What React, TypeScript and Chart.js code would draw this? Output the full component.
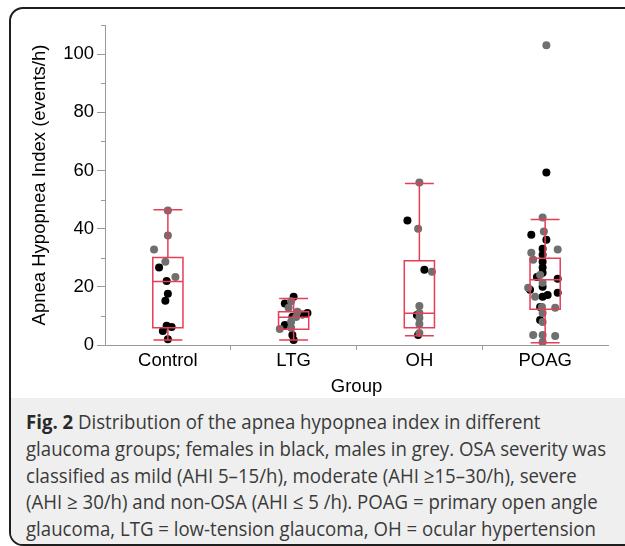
import React, { useEffect, useRef, useState } from 'react';
import { Chart, registerables } from 'chart.js';

Chart.register(...registerables);

// ---------- data ----------
const groups = ['Control', 'LTG', 'OH', 'POAG'];

// females (black) per group: AHI values and horizontal jitter (category units)
const controlFemale = [26.6, 22, 17.6, 15.2, 6.6, 6.2, 4.8, 2.0];
const controlFemaleJitter = [-0.07, -0.01, 0, -0.02, -0.01, 0.03, -0.04, 0];
const controlMale = [46.2, 37.6, 32.8, 28.6, 23.4];
const controlMaleJitter = [0, 0, -0.11, -0.02, 0.06];

const ltgFemale = [16.6, 14.3, 11, 10.5, 9.7, 6.9, 3.4, 1.7];
const ltgFemaleJitter = [0, -0.07, 0.11, 0.07, -0.01, -0.07, -0.01, 0];
const ltgMale = [15, 12.8, 11.4, 9.6, 8, 5.9, 5.5];
const ltgMaleJitter = [-0.02, -0.04, 0.03, 0.02, -0.02, -0.02, -0.11];

const ohFemale = [42.8, 25.9, 10.3, 3.4];
const ohFemaleJitter = [-0.095, 0.04, -0.02, -0.01];
const ohMale = [55.9, 40, 25.2, 13.4, 11, 9.3, 7.2, 4.1];
const ohMaleJitter = [0, -0.01, 0.1, 0, 0, 0, 0, 0];

const poagFemale = [59.3, 37.9, 36.2, 33.1, 31, 28.6, 26.6, 24.8, 23.4, 22.8, 20, 19, 18, 17.2, 16.6, 13.1, 8.6];
const poagFemaleJitter = [0.01, -0.11, 0.01, -0.02, -0.02, -0.02, -0.02, -0.02, -0.065, 0.1, -0.02, -0.12, 0.1, 0.02, -0.02, -0.04, -0.04];
const poagMale = [103, 43.8, 39, 32.8, 31.7, 29.3, 24.1, 21.4, 19.7, 16.6, 12.8, 13.1, 11, 7.9, 3.4, 3.4, 3.1, 1.0];
const poagMaleJitter = [0.01, -0.02, -0.01, 0.1, -0.11, -0.095, -0.04, -0.02, -0.135, -0.08, 0.08, -0.025, -0.02, -0.02, -0.095, -0.02, 0.08, -0.02];

// box plot statistics per group
const whiskerLow = [1.7, 1.7, 3.2, 0.8];
const quartile1 = [5.9, 5.4, 5.9, 12.3];
const medians = [21.8, 9.5, 10.9, 22.4];
const quartile3 = [30.1, 11.4, 29.0, 29.8];
const whiskerHigh = [46.5, 16.0, 55.5, 43.1];

const yMin = 0;
const yMax = 110;
const yStep = 10;
const yLabelEvery = 20;

const yTitle = 'Apnea Hypopnea Index (events/h)';
const xTitle = 'Group';

const captionLines: Array<{ bold?: string; text: string }> = [
  { bold: 'Fig. 2', text: ' Distribution of the apnea hypopnea index in different' },
  { text: 'glaucoma groups; females in black, males in grey. OSA severity was' },
  { text: 'classified as mild (AHI 5–15/h), moderate (AHI ≥15–30/h), severe' },
  { text: '(AHI ≥ 30/h) and non-OSA (AHI ≤ 5 /h). POAG = primary open angle' },
  { text: 'glaucoma, LTG = low-tension glaucoma, OH = ocular hypertension' },
];

// ---------- styles ----------
const BOX_COLOR = '#e53e56';
const AXIS_COLOR = '#9a9a9a';
const FEMALE_COLOR = '#000000';
const MALE_COLOR = '#6f6f6f';
const BOX_HALF = 0.12;
const CAP_HALF = 0.115;
const FONT = '"Liberation Sans", Arial, sans-serif';
const CAPTION_FONT = '"Open Sans", sans-serif';
const CAPTION_SIZE = 20;

function buildPoints(values: number[], jitter: number[], groupIndex: number) {
  return values.map((v, i) => ({ x: groupIndex + 1 + (jitter[i] || 0), y: v }));
}

const boxPlugin = {
  id: 'boxes',
  afterDatasetsDraw(chart: any) {
    const { ctx, scales } = chart;
    const x = scales.x;
    const y = scales.y;
    ctx.save();
    ctx.strokeStyle = BOX_COLOR;
    ctx.lineWidth = 1.5;
    groups.forEach((_, i) => {
      const cx = x.getPixelForValue(i + 1);
      const hw = x.getPixelForValue(i + 1 + BOX_HALF) - cx;
      const cw = x.getPixelForValue(i + 1 + CAP_HALF) - cx;
      const yq1 = y.getPixelForValue(quartile1[i]);
      const yq3 = y.getPixelForValue(quartile3[i]);
      const ymed = y.getPixelForValue(medians[i]);
      const ylo = y.getPixelForValue(whiskerLow[i]);
      const yhi = y.getPixelForValue(whiskerHigh[i]);
      ctx.beginPath();
      ctx.rect(cx - hw, yq3, hw * 2, yq1 - yq3);
      ctx.moveTo(cx - hw, ymed);
      ctx.lineTo(cx + hw, ymed);
      ctx.moveTo(cx, yq3);
      ctx.lineTo(cx, yhi);
      ctx.moveTo(cx, yq1);
      ctx.lineTo(cx, ylo);
      ctx.moveTo(cx - cw, yhi);
      ctx.lineTo(cx + cw, yhi);
      ctx.moveTo(cx - cw, ylo);
      ctx.lineTo(cx + cw, ylo);
      ctx.stroke();
    });
    // minor ticks on the y axis
    ctx.strokeStyle = AXIS_COLOR;
    ctx.lineWidth = 1;
    const left = chart.chartArea.left;
    for (let v = yMin; v <= yMax; v += yStep) {
      if (v % yLabelEvery === 0) continue;
      const py = Math.round(y.getPixelForValue(v)) + 0.5;
      ctx.beginPath();
      ctx.moveTo(left - 4, py);
      ctx.lineTo(left, py);
      ctx.stroke();
    }
    ctx.restore();
  },
};

function ChartCanvas() {
  const ref = useRef<HTMLCanvasElement | null>(null);
  useEffect(() => {
    if (!ref.current) return;
    const female = [
      ...buildPoints(controlFemale, controlFemaleJitter, 0),
      ...buildPoints(ltgFemale, ltgFemaleJitter, 1),
      ...buildPoints(ohFemale, ohFemaleJitter, 2),
      ...buildPoints(poagFemale, poagFemaleJitter, 3),
    ];
    const male = [
      ...buildPoints(controlMale, controlMaleJitter, 0),
      ...buildPoints(ltgMale, ltgMaleJitter, 1),
      ...buildPoints(ohMale, ohMaleJitter, 2),
      ...buildPoints(poagMale, poagMaleJitter, 3),
    ];
    const chart = new Chart(ref.current, {
      type: 'scatter',
      data: {
        datasets: [
          { label: 'Males', data: male, backgroundColor: MALE_COLOR, borderWidth: 0, pointRadius: 4 },
          { label: 'Females', data: female, backgroundColor: FEMALE_COLOR, borderWidth: 0, pointRadius: 4 },
        ],
      },
      options: {
        animation: false,
        responsive: false,
        devicePixelRatio: 1,
        layout: { padding: { left: 0, right: 17, top: 25, bottom: 0 } },
        plugins: { legend: { display: false }, tooltip: { enabled: false } },
        scales: {
          x: {
            type: 'linear',
            min: 0.5,
            max: groups.length + 0.5,
            afterBuildTicks: (scale: any) => {
              const t: any[] = [];
              for (let i = 1; i <= groups.length; i++) {
                t.push({ value: i });
                if (i < groups.length) t.push({ value: i + 0.5 });
              }
              scale.ticks = t;
            },
            afterFit: (scale: any) => {
              scale.height = 55;
            },
            ticks: {
              autoSkip: false,
              maxRotation: 0,
              padding: 0,
              color: '#000',
              font: { family: FONT, size: 18.5 },
              callback: (v: any) => (Number.isInteger(v) ? groups[v - 1] : ''),
            },
            grid: {
              drawOnChartArea: false,
              drawTicks: true,
              tickLength: 5,
              tickColor: (c: any) => (c.tick && !Number.isInteger(c.tick.value) ? AXIS_COLOR : 'rgba(0,0,0,0)'),
            },
            border: { display: true, color: AXIS_COLOR, width: 1 },
            title: {
              display: true,
              text: xTitle,
              color: '#000',
              font: { family: FONT, size: 18.5 },
              padding: { top: 0, bottom: 2 },
            },
          },
          y: {
            type: 'linear',
            min: yMin,
            max: yMax,
            afterFit: (scale: any) => {
              scale.width = 105;
            },
            ticks: {
              stepSize: yStep,
              padding: 3,
              color: '#000',
              font: { family: FONT, size: 18.5 },
              callback: (v: any) => (v % yLabelEvery === 0 ? String(v) : ''),
            },
            grid: {
              drawOnChartArea: false,
              drawTicks: true,
              tickLength: 8,
              tickColor: (c: any) => (c.tick && c.tick.value % yLabelEvery === 0 ? AXIS_COLOR : 'rgba(0,0,0,0)'),
            },
            border: { display: true, color: AXIS_COLOR, width: 1 },
            title: {
              display: true,
              text: yTitle,
              color: '#000',
              font: { family: FONT, size: 18.5 },
              padding: { top: 29, bottom: 0 },
            },
          },
        },
      },
      plugins: [boxPlugin],
    } as any);
    return () => chart.destroy();
  }, []);
  return <canvas ref={ref} width={625} height={400} style={{ position: 'absolute', left: 0, top: 0, width: 625, height: 400 }} />;
}

export default function App() {
  const [scale, setScale] = useState(0.85);
  useEffect(() => {
    const c = document.createElement('canvas').getContext('2d');
    if (!c) return;
    c.font = `${CAPTION_SIZE}px ${CAPTION_FONT}`;
    const w = c.measureText(captionLines[1].text).width;
    if (w > 0) setScale(580 / w);
  }, []);
  return (
    <div style={{ position: 'fixed', left: 0, top: 0, width: 625, height: 546, background: '#fff', overflow: 'hidden' }}>
      <div
        style={{
          position: 'absolute',
          left: 9,
          top: 7,
          width: 680,
          height: 539,
          border: '2px solid #1e1e1e',
          borderRadius: 14,
          overflow: 'hidden',
          boxSizing: 'border-box',
        }}
      >
        <div style={{ position: 'absolute', left: 0, right: 0, top: 389, bottom: 0, background: '#efefef' }} />
      </div>
      <ChartCanvas />
      {captionLines.map((l, i) => (
        <div
          key={i}
          style={{
            position: 'absolute',
            left: 26,
            top: 408 + i * 26.8,
            height: 27,
            lineHeight: '27px',
            fontFamily: CAPTION_FONT,
            fontSize: CAPTION_SIZE,
            color: '#3a3a3a',
            whiteSpace: 'nowrap',
            transform: `scaleX(${scale})`,
            transformOrigin: 'left center',
          }}
        >
          {l.bold ? <b style={{ color: '#2a2a2a' }}>{l.bold}</b> : null}
          {l.text}
        </div>
      ))}
    </div>
  );
}
